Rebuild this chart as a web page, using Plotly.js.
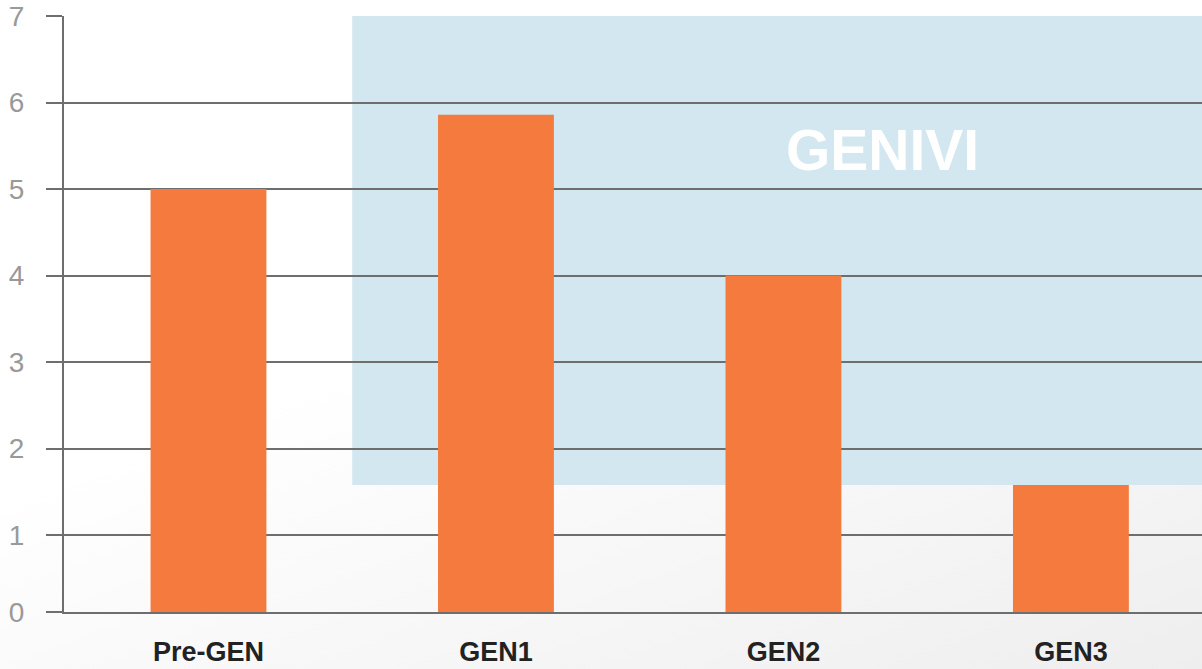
<!DOCTYPE html>
<html>
<head>
<meta charset="utf-8">
<script src="https://cdn.plot.ly/plotly-3.0.1.min.js"></script>
<style>
  html, body { margin: 0; padding: 0; }
  body { width: 1202px; height: 669px; overflow: hidden;
         background: linear-gradient(160deg, #ffffff 0%, #ffffff 45%, #f6f6f6 75%, #eeeeee 100%); }
  #chart { width: 1202px; height: 669px; }
</style>
</head>
<body>
<div id="chart"></div>
<script>
const categories = ["Pre-GEN", "GEN1", "GEN2", "GEN3"];
const values = [5.0, 5.86, 4.0, 1.58];
const tickVals = [0.111, 1, 2, 3, 4, 5, 6, 7];
const tickText = ["0", "1", "2", "3", "4", "5", "6", "7"];
const bandLabel = "GENIVI";
const bandBottom = 1.58;

const gridColor = "#6e6e6e";

const trace = {
  type: "bar",
  x: categories,
  y: values,
  marker: { color: "#F47A3D", line: { width: 0 } },
  hoverinfo: "x+y"
};

const layout = {
  width: 1202, height: 669,
  margin: { l: 64, r: 0, t: 16, b: 57, pad: 0 },
  paper_bgcolor: "rgba(0,0,0,0)",
  plot_bgcolor: "rgba(0,0,0,0)",
  bargap: 0.597,
  showlegend: false,
  font: { family: "Liberation Sans, Arial, sans-serif" },
  xaxis: {
    type: "category",
    range: [-0.5026, 3.456],
    showgrid: false,
    showline: true, linecolor: gridColor, linewidth: 2,
    ticks: "",
    ticklabelstandoff: 15,
    tickfont: { size: 27, color: "#222222", family: "Liberation Sans, Arial, sans-serif", weight: "bold" },
    zeroline: false
  },
  yaxis: {
    range: [0.111, 7],
    tickvals: tickVals,
    ticktext: tickText,
    showgrid: true, gridcolor: gridColor, gridwidth: 2,
    showline: true, linecolor: gridColor, linewidth: 2,
    ticks: "outside", ticklen: 16, tickcolor: gridColor, tickwidth: 2,
    ticklabelstandoff: 16,
    tickfont: { size: 28, color: "#999999" },
    zeroline: false
  },
  shapes: [{
    type: "rect", layer: "below",
    xref: "x", yref: "y",
    x0: 0.5, x1: 3.6, y0: bandBottom, y1: 7,
    fillcolor: "#D2E7EF", line: { width: 0 }
  }],
  annotations: [{
    text: bandLabel, xref: "x", yref: "y", x: 2.346, y: 5.45,
    showarrow: false,
    font: { size: 57, color: "#ffffff", family: "Liberation Sans, Arial, sans-serif", weight: "bold" }
  }]
};

Plotly.newPlot("chart", [trace], layout, { displayModeBar: false, staticPlot: true });
</script>
</body>
</html>
